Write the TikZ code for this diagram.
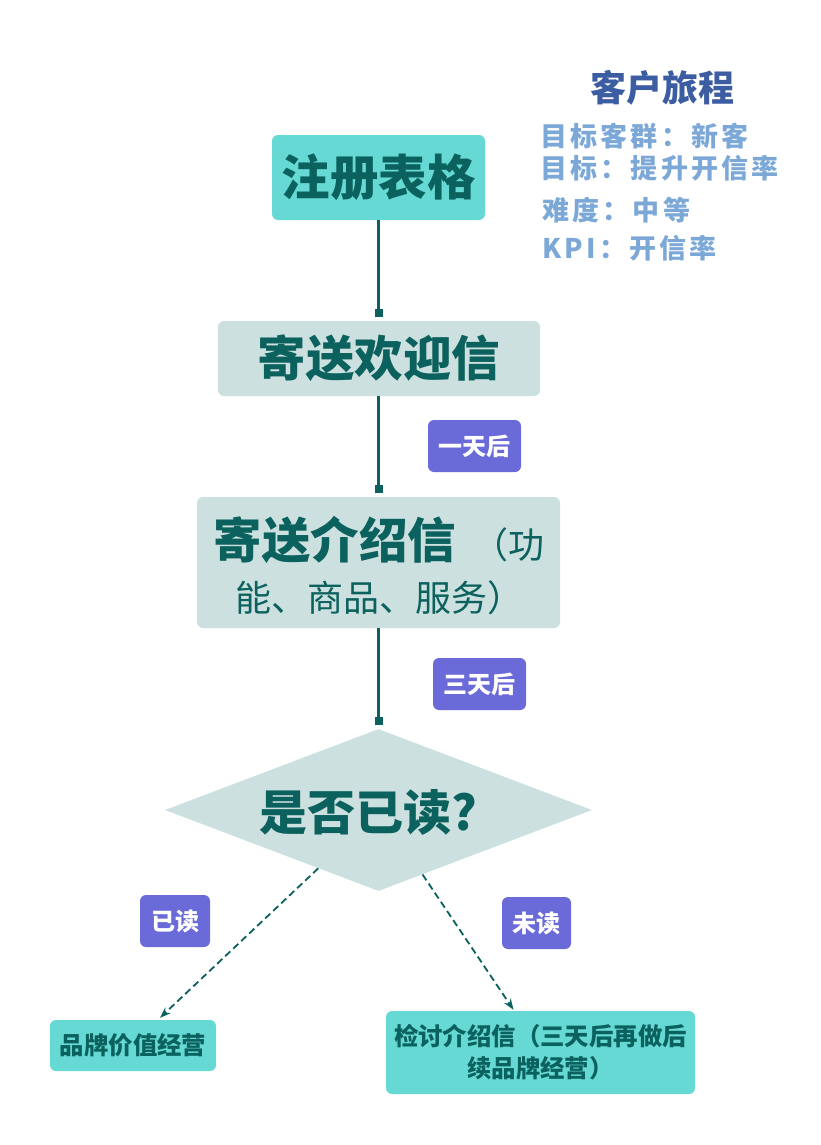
\documentclass[tikz,border=0pt]{standalone}
\usepackage{fontspec}
\setmainfont{Noto Sans CJK SC}
\newfontfamily\infofont{Noto Sans CJK SC}[LetterSpace=12]
\usetikzlibrary{arrows.meta,shapes.geometric,calc}
\definecolor{tdark}{HTML}{0B615D}
\definecolor{tfill}{HTML}{66D9D4}
\definecolor{gfill}{HTML}{CCE0DF}
\definecolor{pfill}{HTML}{6A6AD8}
\definecolor{tblue}{HTML}{3D5DA3}
\definecolor{lblue}{HTML}{7CA8D8}
\tikzset{
  bigbox/.style={rounded corners=6pt, inner sep=0pt, text=tdark, font=\bfseries\fontsize{48.5}{52}\selectfont},
  smallbox/.style={rounded corners=6pt, inner sep=0pt, fill=tfill, text=tdark, align=center, font=\bfseries\fontsize{24.4}{32}\selectfont},
  tag/.style={fill=pfill, rounded corners=6pt, inner sep=0pt, minimum height=52pt, text=white, font=\bfseries\fontsize{24}{28}\selectfont},
  conn/.style={draw=tdark, line width=2.2pt, -{Square[length=8pt,width=8pt]}, shorten >=4pt},
  dconn/.style={draw=tdark, line width=1.8pt, dash pattern=on 7pt off 4pt, -{Stealth[length=11pt,width=8pt]}},
  info/.style={anchor=west, inner sep=0pt, text=lblue, font=\infofont\bfseries\fontsize{27}{30}\selectfont},
}
\begin{document}
\begin{tikzpicture}[x=1pt,y=-1pt]
\useasboundingbox (0,0) rectangle (820,1145);
% title & info
\node[inner sep=0pt, text=tblue, font=\bfseries\fontsize{36}{40}\selectfont] (title) at (662,88) {客户旅程};
\node[info] (i1) at (540,136) {目标客群：新客};
\node[info] (i2) at (540,168) {目标：提升开信率};
\node[info] (i3) at (542,210) {难度：中等};
\node[info] (i4) at (542,248) {KPI：开信率};
% main boxes
\node[bigbox, fill=tfill, minimum width=213pt, minimum height=85pt] (n1) at (378.5,177.5) {注册表格};
\node[bigbox, fill=gfill, minimum width=322pt, minimum height=75pt] (n2) at (379,358.5) {寄送欢迎信};
\node[bigbox, fill=gfill, minimum width=363pt, minimum height=131pt] (n3) at (378.5,562.5) {};
\node[inner sep=0pt, text=tdark] (n3a) at (379,540) {{\bfseries\fontsize{48.5}{52}\selectfont 寄送介绍信}\hspace{16pt}{\fontsize{36}{40}\selectfont （功}};
\node[inner sep=0pt, text=tdark, font=\fontsize{36}{40}\selectfont] (n3b) at (379,598) {能、商品、服务）};
\node[diamond, aspect=2.64, fill=gfill, inner sep=0pt, minimum width=427pt, minimum height=162pt] (dia) at (378.5,810) {};
\node[inner sep=0pt, text=tdark, font=\bfseries\fontsize{48}{52}\selectfont] (diat) at (368,812) {是否已读?};
\node[smallbox, minimum width=166pt, minimum height=51pt] (b1) at (133,1045.5) {品牌价值经营};
\node[smallbox, minimum width=309pt, minimum height=83pt] (b2) at (540.5,1052.5) {检讨介绍信（三天后再做后\\续品牌经营）};
% tags
\node[tag, minimum width=93pt] (t1) at (474.5,446) {一天后};
\node[tag, minimum width=93pt] (t2) at (479.5,684) {三天后};
\node[tag, minimum width=70pt] (t3) at (175,921) {已读};
\node[tag, minimum width=69pt] (t4) at (536.5,923) {未读};
% connectors
\draw[conn] (n1.south) -- (n1.south |- n2.north);
\draw[conn] (n2.south -| n1.south) -- (n1.south |- n3.north);
\draw[conn] (n3.south -| n1.south) -- (n1.south |- dia.north);
\draw[dconn] ($(dia.west)!0.718!(dia.south)$) -- ($(b1.north)+(27,-2)$);
\draw[dconn] ($(dia.south)!0.206!(dia.east)$) -- ($(b2.north)+(-27,-1)$);
\end{tikzpicture}
\end{document}
